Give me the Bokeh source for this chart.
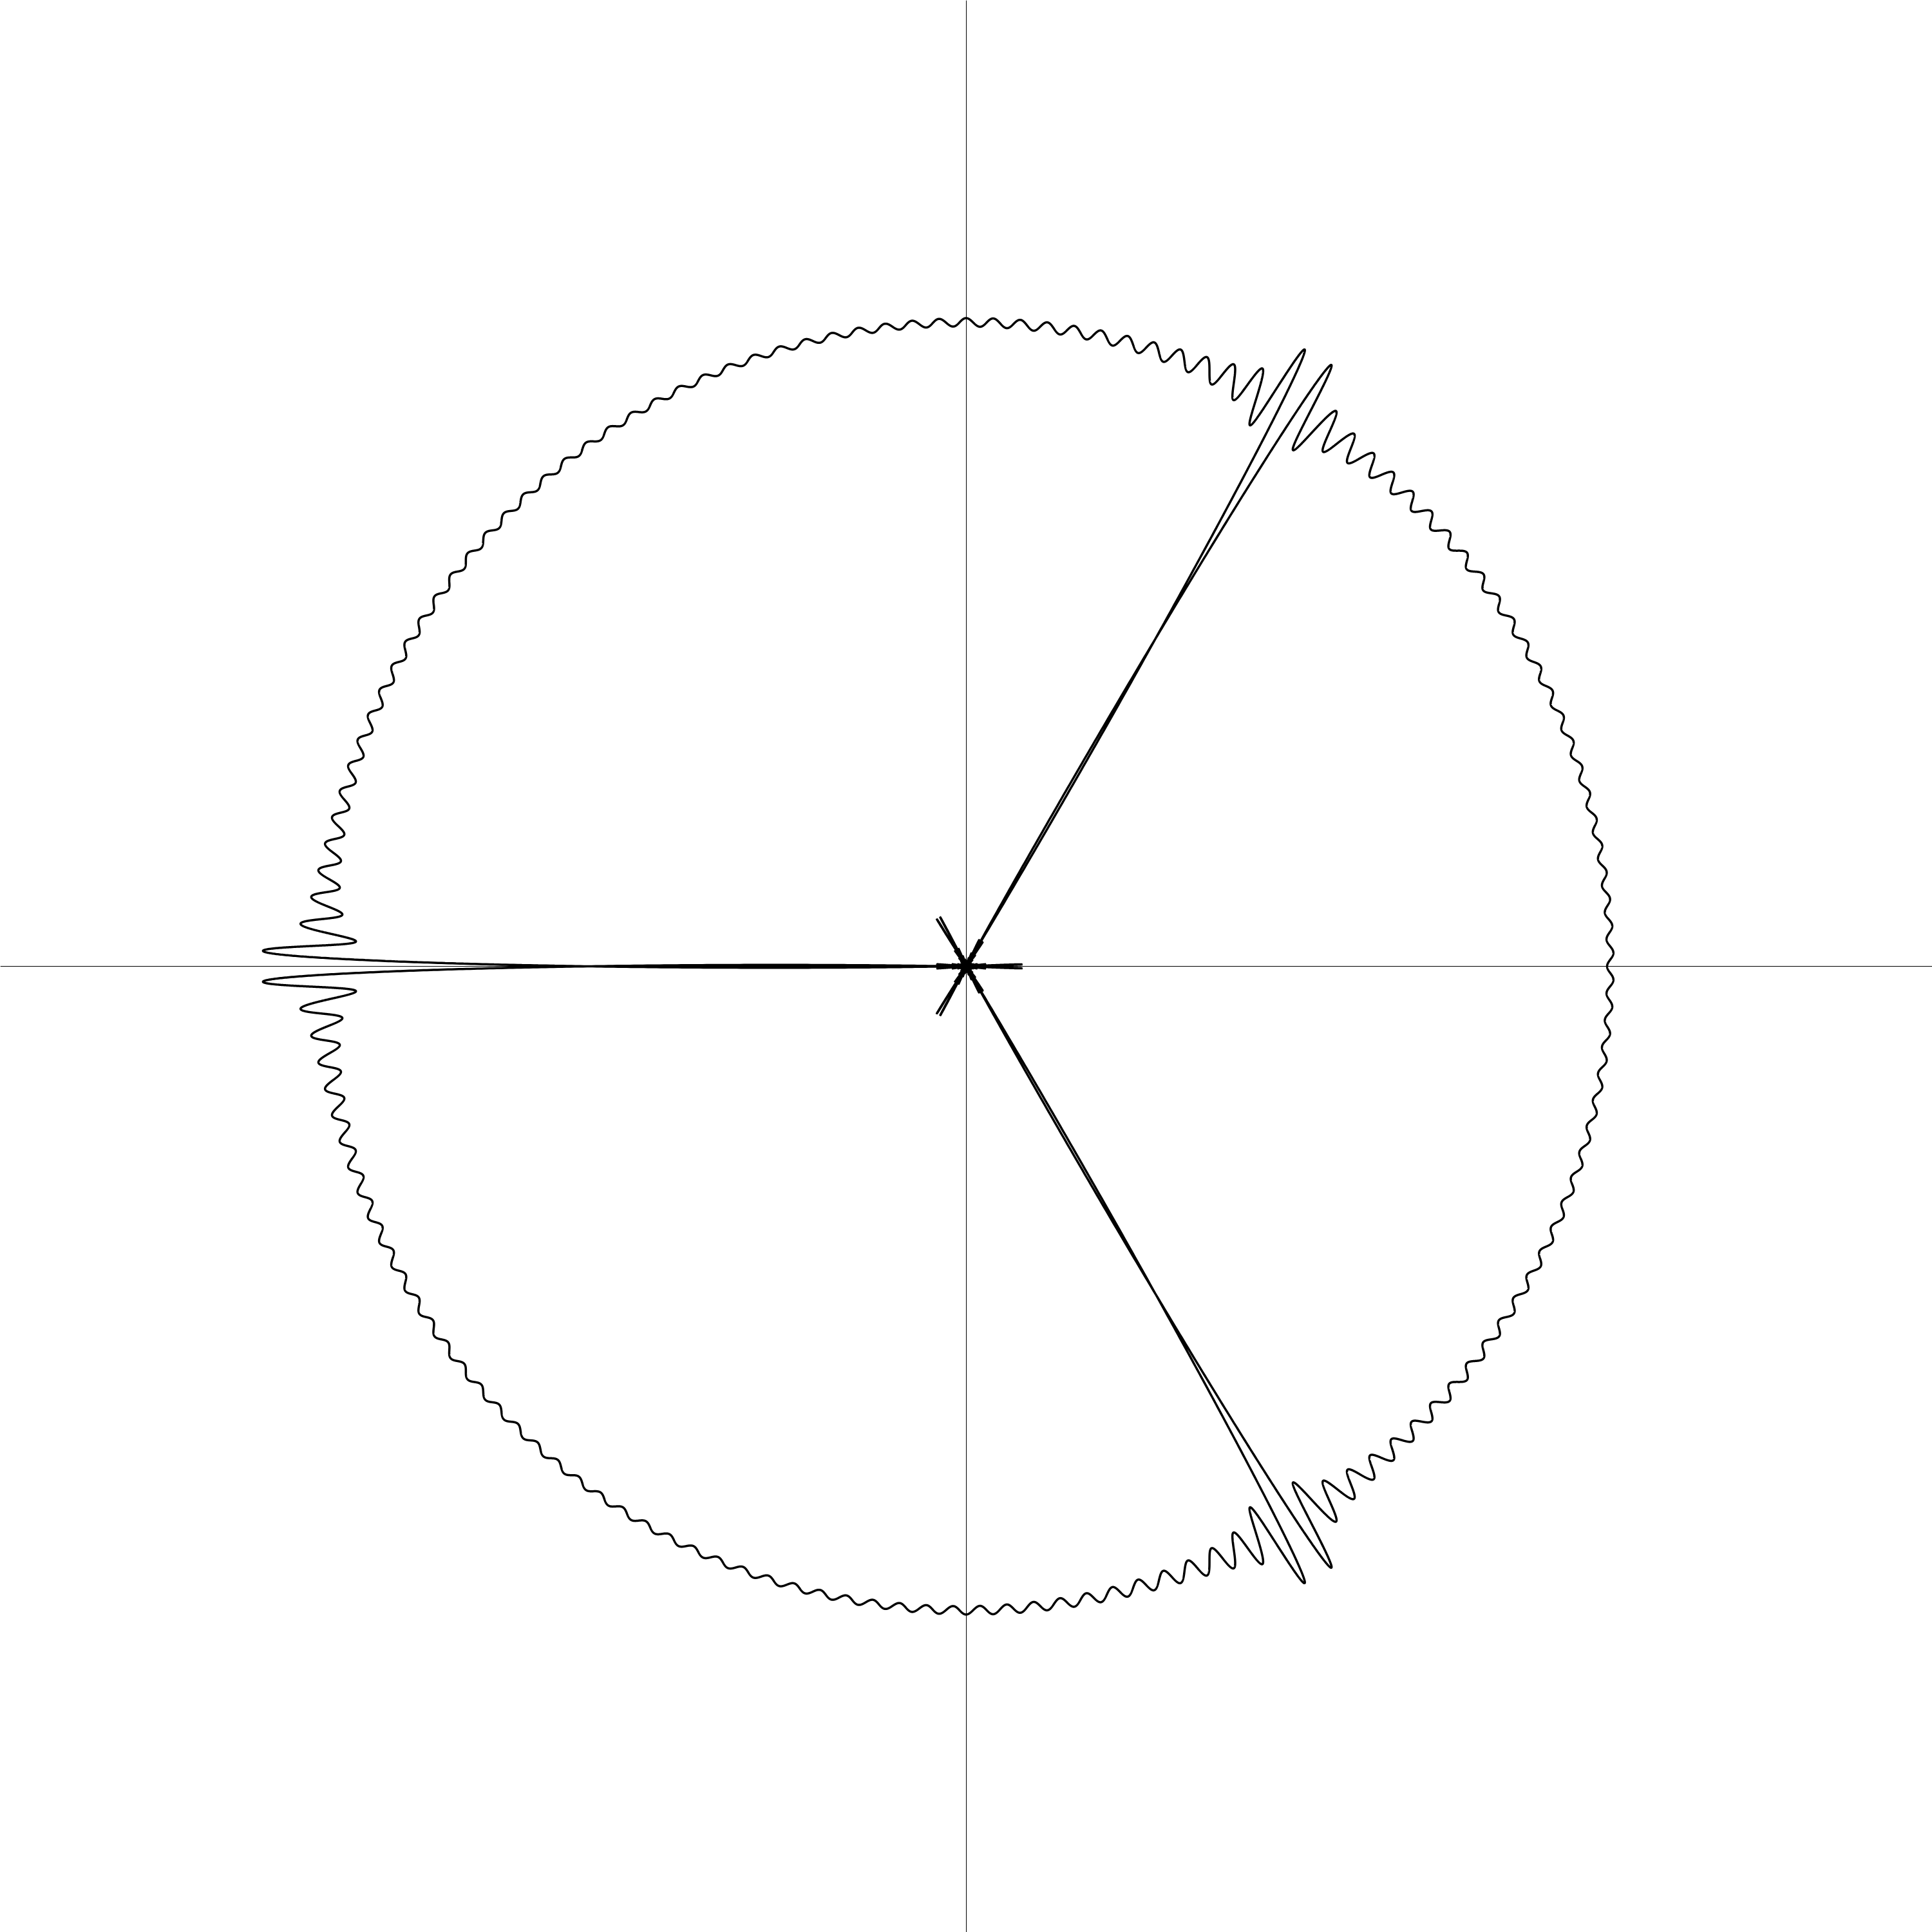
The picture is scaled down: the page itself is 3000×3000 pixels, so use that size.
import numpy as np
from bokeh.plotting import figure
from bokeh.models import Span, Range1d, ColumnDataSource
from bokeh.embed import file_html
from bokeh.resources import INLINE

# ---- values ----
SPIKE_ANGLES_DEG = [180.0, 300.0, 60.0]   # directions of the three jumps to the origin
RADIUS = 1.0                              # radius of the rippled circle
HARMONICS = 199                           # highest harmonic kept in the partial sum
DWELL_RIPPLES = 16.5                      # ripples spent at the origin at each spike
AXIS_X = [0.0]
AXIS_Y = [0.0]
X_RANGE = [-1.5, 1.5]
Y_RANGE = [-1.5, 1.5]

# ---- underlying periodic function: arcs of the circle, with dwells at the origin ----
M = 2 ** 18
t = (np.arange(M) + 0.5) / M
f = np.zeros(M, dtype=complex)
nseg = len(SPIKE_ANGLES_DEG)
seg = 1.0 / nseg
d = DWELL_RIPPLES / (HARMONICS + 0.5)
for k in range(nseg):
    a0 = SPIKE_ANGLES_DEG[k]
    a1 = SPIKE_ANGLES_DEG[(k + 1) % nseg]
    span_deg = (a1 - a0) % 360.0
    t0 = k * seg + d / 2.0
    t1 = (k + 1) * seg - d / 2.0
    m = (t >= t0) & (t < t1)
    phi = np.deg2rad(a0 + span_deg * (t[m] - t0) / (t1 - t0))
    f[m] = RADIUS * np.exp(1j * phi)

# ---- truncated Fourier series of it ----
c = np.fft.fft(f) / M
N = HARMONICS
L = 60000
g = np.zeros(L, dtype=complex)
g[: N + 1] = c[: N + 1]
g[L - N:] = c[M - N:]
S = np.fft.ifft(g) * L
S = np.append(S, S[0])

src = ColumnDataSource(data=dict(x=S.real, y=S.imag))

p = figure(width=3000, height=3000, output_backend="svg", toolbar_location=None,
           x_range=Range1d(*X_RANGE), y_range=Range1d(*Y_RANGE),
           min_border=0, min_border_left=0, min_border_right=0,
           min_border_top=0, min_border_bottom=0)
p.axis.visible = False
p.grid.visible = False
p.outline_line_color = None
p.background_fill_color = "white"
p.border_fill_color = "white"

for ax in AXIS_X:
    p.add_layout(Span(location=ax, dimension="height", line_color="black",
                      line_width=1, level="underlay"))
for ay in AXIS_Y:
    p.add_layout(Span(location=ay, dimension="width", line_color="black",
                      line_width=1, level="underlay"))

p.line("x", "y", source=src, line_color="black", line_width=3.5)

open("out.html", "w").write(file_html(p, INLINE))
